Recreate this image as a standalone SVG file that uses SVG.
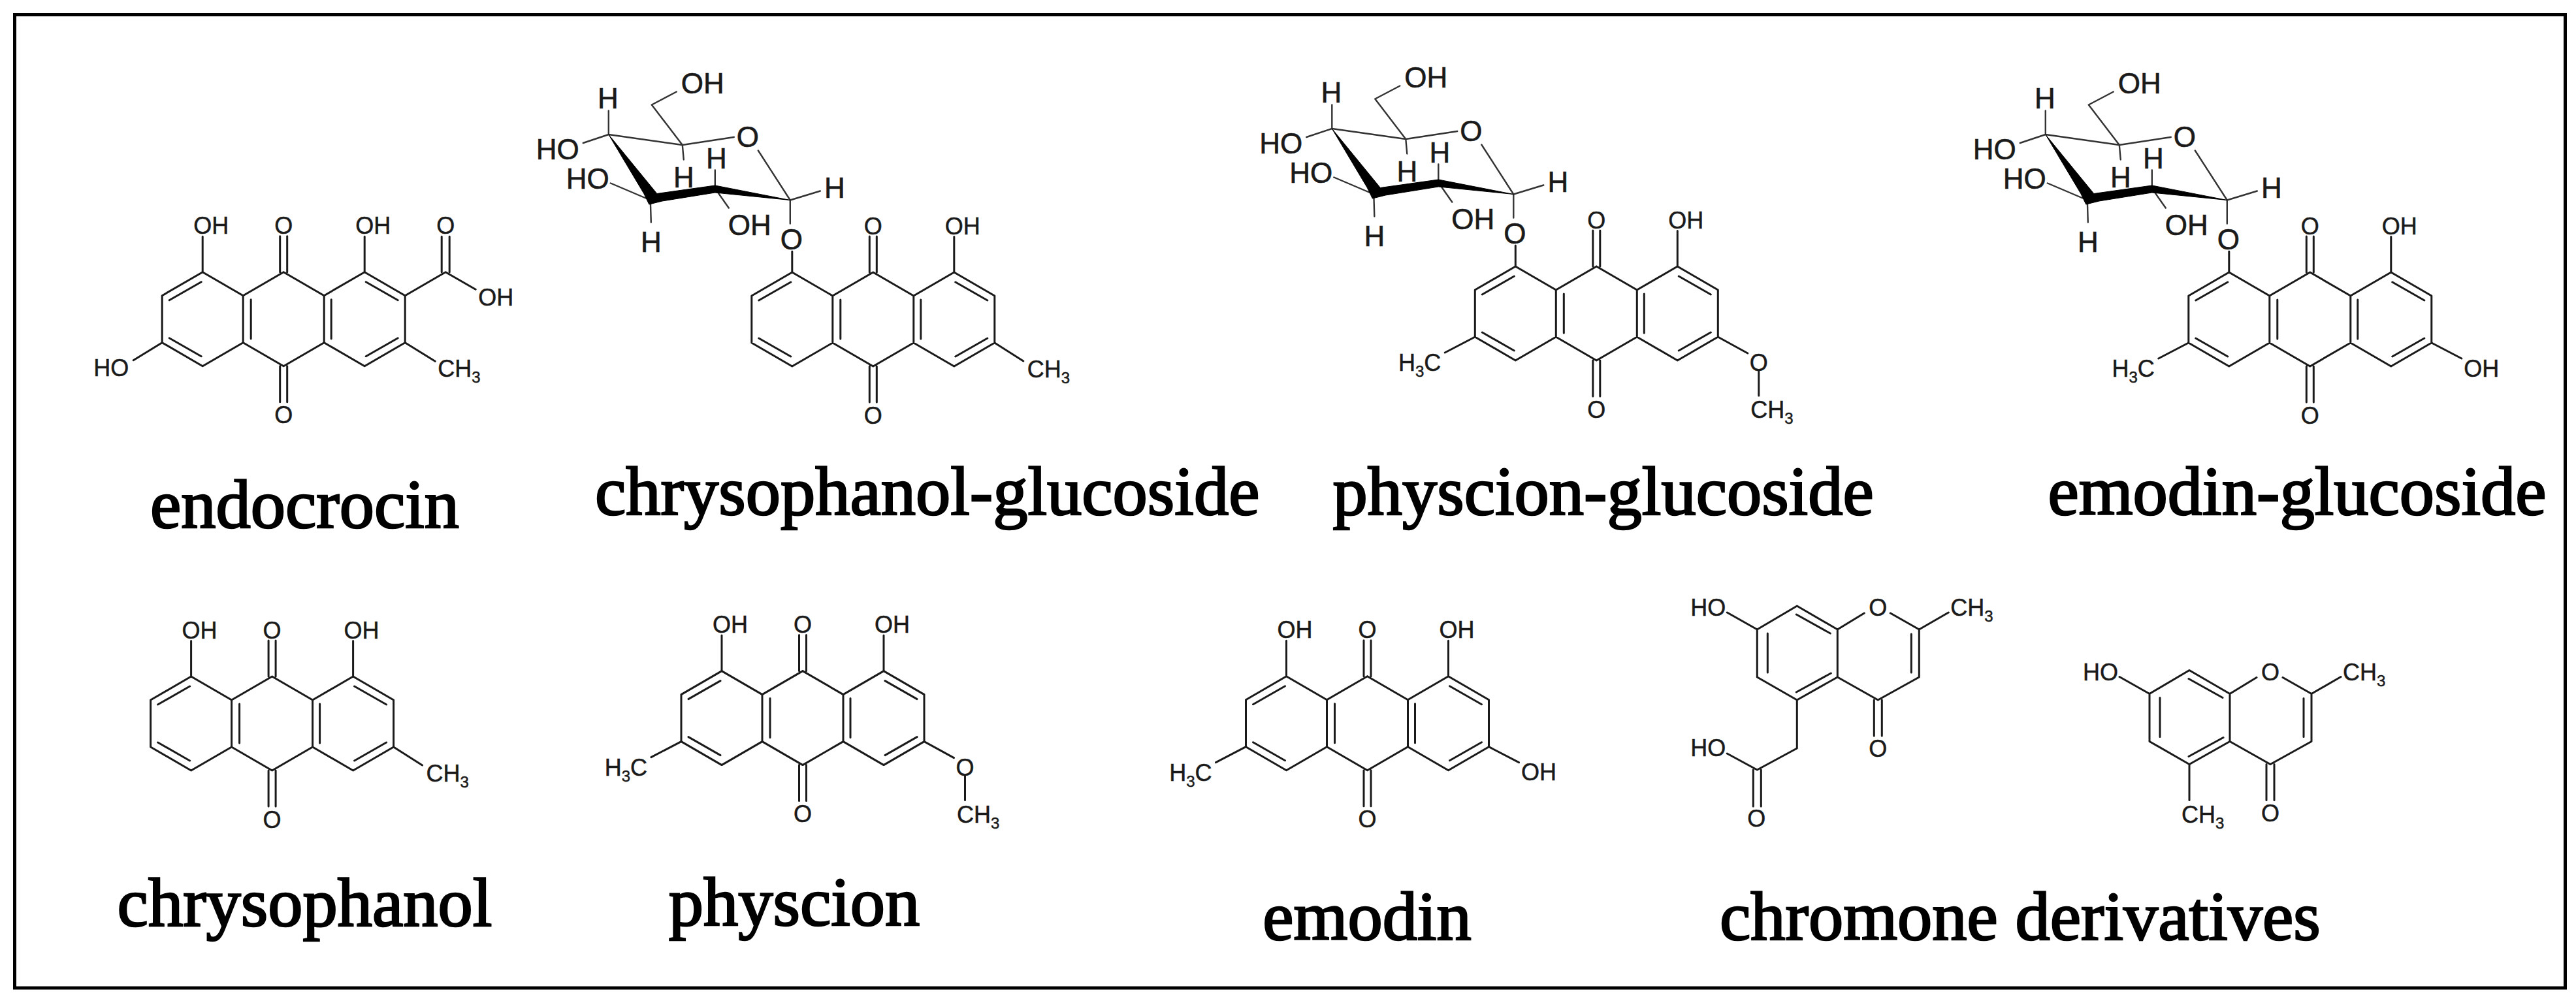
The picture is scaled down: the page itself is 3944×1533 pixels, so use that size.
<svg xmlns="http://www.w3.org/2000/svg" width="3944" height="1533" viewBox="0 0 3944 1533">
<style>
.b{fill:none;stroke:#1a1a1a;stroke-width:3;stroke-linecap:round;stroke-linejoin:round}
.s{fill:none;stroke:#333;stroke-width:2.4;stroke-linecap:round;stroke-linejoin:round}
.w{fill:#000;stroke:#000;stroke-width:1;stroke-linejoin:round}
.a{font-family:"Liberation Sans",Arial,sans-serif;font-size:36px;fill:#1a1a1a;stroke:#1a1a1a;stroke-width:.5}
.g{font-family:"Liberation Sans",Arial,sans-serif;font-size:44px;fill:#1a1a1a;stroke:#1a1a1a;stroke-width:.6}
.m{text-anchor:middle}
.e{text-anchor:end}
.sub{font-size:24px}
.t{font-family:"Liberation Serif","Times New Roman",serif;font-size:106.5px;fill:#000;stroke:#000;stroke-width:2.6}
</style>
<defs>
<path id="aq" class="b" d="M0,-72L-62,-36L-124,-72L-186,-36V36L-124,72L-62,36L0,72L62,36L124,72L186,36V-36L124,-72L62,-36L0,-72M-62,-36V36M62,-36V36M-175,-29L-126,-57M-175,29L-126,57M126,-57L175,-29M126,57L175,29M-50,-30V30M73,-30V30M-5.5,-72V-127M5.5,-72V-127M-5.5,72V127M5.5,72V127"/>
<path id="sugar" class="s" d="M-292,-267L-405,-283M-405,-283L-444,-270M-405,-283V-319.5M-292,-267L-339,-328.5L-301,-348.5M-292,-267L-213,-279M-292,-267L-290,-244.5M-127,-182.5L-176,-258.5M-127,-182.5L-81,-196.5M-127,-182.5V-146.5M-242,-200.5V-228.5M-242,-200.5L-221,-170.5M-341,-182.5L-402,-208.5M-341,-182.5L-340,-148.5"/>
<polygon id="wedge" class="w" points="-405,-283 -331,-192.5 -242,-205 -127,-182.5 -242,-194 -323,-181 -343,-176 -351,-192.5"/>
</defs>
<rect width="3944" height="1533" fill="#fff"/>
<rect x="22.5" y="22.5" width="3905" height="1490.5" fill="none" stroke="#000" stroke-width="5"/>

<g id="endocrocin" transform="translate(434.2,488.7)">
<use href="#aq"/>
<path class="b" d="M-124,-72V-126.5M124,-72V-126.5M186,-36L248,-72L294,-45.5M242,-72V-126.5M254,-72V-126.5M186,36L232,64.6M-186,36L-230,63"/>
<text class="a" x="-138" y="-130.5">OH</text><text class="a m" x="0" y="-130.5">O</text><text class="a" x="110" y="-130.5">OH</text><text class="a m" x="248" y="-130.5">O</text><text class="a" x="298" y="-21">OH</text><text class="a" x="236" y="88.5">CH<tspan class="sub" dy="9">3</tspan></text><text class="a e" x="-237" y="87">HO</text><text class="a m" x="0" y="159.5">O</text>
<text class="t m" x="32.3" y="319.3">endocrocin</text>
</g>

<g id="chrysophanol-glucoside" transform="translate(1336.8,489)">
<use href="#aq"/><use href="#sugar"/><use href="#wedge"/>
<path class="b" d="M-124,-72V-104M124,-72V-126.5M186,36L230,64"/>
<text class="a m" x="0" y="-130.5">O</text><text class="a" x="110" y="-130.5">OH</text><text class="a" x="236" y="89">CH<tspan class="sub" dy="9">3</tspan></text><text class="a m" x="0" y="159.5">O</text>
<text class="g" x="-294" y="-346.5">OH</text><text class="g m" x="-406" y="-323.5">H</text><text class="g m" x="-192" y="-264.5">O</text><text class="g e" x="-450" y="-245.5">HO</text><text class="g e" x="-404" y="-200.5">HO</text><text class="g m" x="-240" y="-231.5">H</text><text class="g m" x="-290" y="-202.5">H</text><text class="g m" x="-59" y="-186.5">H</text><text class="g m" x="-340" y="-103.5">H</text><text class="g" x="-222" y="-129">OH</text><text class="g m" x="-125" y="-107">O</text>
<text class="t m" x="82.9" y="299">chrysophanol-glucoside</text>
</g>

<g id="physcion-glucoside" transform="translate(2444.3,480)">
<use href="#aq"/><use href="#sugar"/><use href="#wedge"/>
<path class="b" d="M-124,-72V-104M124,-72V-126.5M186,36L231.5,61M248.5,88V126M-186,36L-232,60"/>
<text class="a m" x="0" y="-130.5">O</text><text class="a" x="110" y="-130.5">OH</text><text class="a m" x="248.5" y="88">O</text><text class="a" x="236" y="160">CH<tspan class="sub" dy="9">3</tspan></text><text class="a e" x="-238" y="88">H<tspan class="sub" dy="9">3</tspan><tspan dy="-9">C</tspan></text><text class="a m" x="0" y="159.5">O</text>
<text class="g" x="-294" y="-346.5">OH</text><text class="g m" x="-406" y="-323.5">H</text><text class="g m" x="-192" y="-264.5">O</text><text class="g e" x="-450" y="-245.5">HO</text><text class="g e" x="-404" y="-200.5">HO</text><text class="g m" x="-240" y="-231.5">H</text><text class="g m" x="-290" y="-202.5">H</text><text class="g m" x="-59" y="-186.5">H</text><text class="g m" x="-340" y="-103.5">H</text><text class="g" x="-222" y="-129">OH</text><text class="g m" x="-125" y="-107">O</text>
<text class="t m" x="10.3" y="308">physcion-glucoside</text>
</g>

<g id="emodin-glucoside" transform="translate(3536.8,489)">
<use href="#aq"/><use href="#sugar"/><use href="#wedge"/>
<path class="b" d="M-124,-72V-104M124,-72V-126.5M186,36L232,60M-186,36L-232,60"/>
<text class="a m" x="0" y="-130.5">O</text><text class="a" x="110" y="-130.5">OH</text><text class="a" x="235.5" y="87.5">OH</text><text class="a e" x="-238" y="88">H<tspan class="sub" dy="9">3</tspan><tspan dy="-9">C</tspan></text><text class="a m" x="0" y="159.5">O</text>
<text class="g" x="-294" y="-346.5">OH</text><text class="g m" x="-406" y="-323.5">H</text><text class="g m" x="-192" y="-264.5">O</text><text class="g e" x="-450" y="-245.5">HO</text><text class="g e" x="-404" y="-200.5">HO</text><text class="g m" x="-240" y="-231.5">H</text><text class="g m" x="-290" y="-202.5">H</text><text class="g m" x="-59" y="-186.5">H</text><text class="g m" x="-340" y="-103.5">H</text><text class="g" x="-222" y="-129">OH</text><text class="g m" x="-125" y="-107">O</text>
<text class="t m" x="-19.8" y="299">emodin-glucoside</text>
</g>

<g id="chrysophanol" transform="translate(416.6,1108)">
<use href="#aq"/>
<path class="b" d="M-124,-72V-126.5M124,-72V-126.5M186,36L230,64"/>
<text class="a" x="-138" y="-130.5">OH</text><text class="a m" x="0" y="-130.5">O</text><text class="a" x="110" y="-130.5">OH</text><text class="a" x="236" y="89">CH<tspan class="sub" dy="9">3</tspan></text><text class="a m" x="0" y="159.5">O</text>
<text class="t m" x="49.9" y="310">chrysophanol</text>
</g>

<g id="physcion" transform="translate(1229,1099.6)">
<use href="#aq"/>
<path class="b" d="M-124,-72V-126.5M124,-72V-126.5M186,36L231.5,61M248.5,88V126M-186,36L-232,60"/>
<text class="a" x="-138" y="-130.5">OH</text><text class="a m" x="0" y="-130.5">O</text><text class="a" x="110" y="-130.5">OH</text><text class="a m" x="248.5" y="88">O</text><text class="a" x="236" y="160">CH<tspan class="sub" dy="9">3</tspan></text><text class="a e" x="-238" y="88">H<tspan class="sub" dy="9">3</tspan><tspan dy="-9">C</tspan></text><text class="a m" x="0" y="159.5">O</text>
<text class="t m" x="-13" y="317.4">physcion</text>
</g>

<g id="emodin" transform="translate(2093.5,1107.7)">
<use href="#aq"/>
<path class="b" d="M-124,-72V-126.5M124,-72V-126.5M186,36L232,60M-186,36L-232,60"/>
<text class="a" x="-138" y="-130.5">OH</text><text class="a m" x="0" y="-130.5">O</text><text class="a" x="110" y="-130.5">OH</text><text class="a" x="235.5" y="87.5">OH</text><text class="a e" x="-238" y="88">H<tspan class="sub" dy="9">3</tspan><tspan dy="-9">C</tspan></text><text class="a m" x="0" y="159.5">O</text>
<text class="t m" x="-0.5" y="331.3">emodin</text>
</g>

<g id="chromone-1" transform="translate(-1.7,0)">
<path class="b" d="M2692,964L2753,928L2815,964V1037L2753,1072L2692,1037V964M2646,938L2692,964M2815,964L2856,939M2896,939L2940,964V1037L2877,1072L2815,1037M2940,964L2985,938M2708,970V1030M2752,941L2804,970M2805,1031L2752,1060M2928,971V1030M2753,1072V1146L2692,1179L2646,1154M2686,1179V1235M2698,1179V1235M2871,1072V1127M2883,1072V1127"/>
<text class="a" x="2590" y="943">HO</text><text class="a m" x="2877" y="943">O</text><text class="a" x="2988" y="943">CH<tspan class="sub" dy="9">3</tspan></text><text class="a m" x="2877" y="1159">O</text><text class="a" x="2590" y="1158">HO</text><text class="a m" x="2691" y="1266">O</text>
</g>

<g id="chromone-2" transform="translate(599,98.5)">
<path class="b" d="M2692,964L2753,928L2815,964V1037L2753,1072L2692,1037V964M2646,938L2692,964M2815,964L2856,939M2896,939L2940,964V1037L2877,1072L2815,1037M2940,964L2985,938M2708,970V1030M2752,941L2804,970M2805,1031L2752,1060M2928,971V1030M2753,1072V1127M2871,1072V1127M2883,1072V1127"/>
<text class="a" x="2590" y="943">HO</text><text class="a m" x="2877" y="943">O</text><text class="a" x="2988" y="943">CH<tspan class="sub" dy="9">3</tspan></text><text class="a m" x="2877" y="1159">O</text><text class="a" x="2741" y="1161">CH<tspan class="sub" dy="9">3</tspan></text>
</g>

<g id="label-chromone"><text class="t" x="2633" y="1439">chromone derivatives</text></g>
</svg>
